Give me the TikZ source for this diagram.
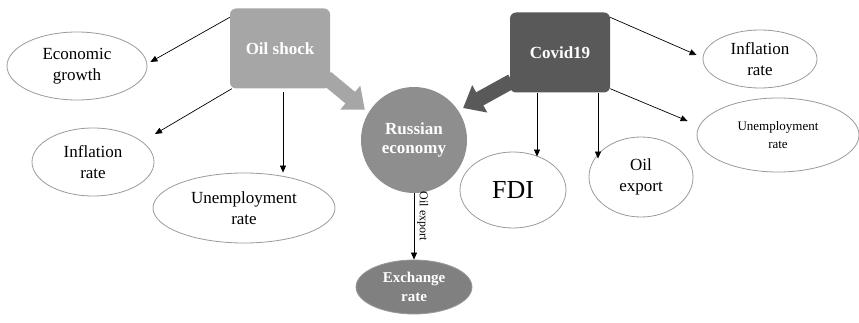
\documentclass[tikz,border=0pt]{standalone}
\usepackage{fontspec}
\setmainfont{Liberation Serif}
\usetikzlibrary{shapes.geometric,arrows.meta,backgrounds}
\definecolor{oilgray}{HTML}{A6A6A6}
\definecolor{rusgray}{HTML}{8E8E8E}
\definecolor{covgray}{HTML}{595959}
\definecolor{exgray}{HTML}{808080}
\definecolor{rimgray}{HTML}{9A9A9A}
\tikzset{
  oval/.style={draw=rimgray, line width=0.8pt, ellipse, inner sep=0pt, align=center, font=\fontsize{17}{20.5}\selectfont},
  shockbox/.style={rounded corners=6pt, minimum width=100pt, minimum height=80pt, text=white, font=\fontsize{17}{20}\selectfont\bfseries},
  arr/.style={-{Triangle[length=7pt,width=6pt]}, line width=0.7pt},
  bigarr/.style={line width=15pt, -{Triangle[length=19pt,width=30pt]}}
}
\begin{document}
\begin{tikzpicture}[x=1pt,y=-1pt]
\useasboundingbox (0,0) rectangle (859,323);
\node[shockbox, fill=oilgray] (oil) at (280,48.5) {Oil shock};
\node[shockbox, fill=covgray] (cov) at (560,52.5) {Covid19};
\node[circle, fill=rusgray, minimum size=106pt, inner sep=0pt, align=center, text=white, font=\fontsize{17}{19.5}\selectfont\bfseries] (rus) at (414,140) {Russian\\economy};
\node[oval, fill=exgray, minimum width=116pt, minimum height=54pt, text=white, font=\fontsize{15}{19}\selectfont\bfseries] (exr) at (414,287) {Exchange\\rate};
\node[oval, minimum width=140pt, minimum height=68pt] (eco) at (77,66) {Economic\\growth};
\node[oval, minimum width=122pt, minimum height=68pt] (infl) at (93,162) {Inflation\\rate};
\node[oval, minimum width=182pt, minimum height=70pt] (unl) at (244,208) {Unemployment\\rate};
\node[oval, minimum width=114pt, minimum height=58pt] (infr) at (760,59) {Inflation\\rate};
\node[oval, minimum width=162pt, minimum height=74pt, font=\fontsize{13}{18}\selectfont] (unr) at (778,135) {Unemployment\\rate};
\node[oval, minimum width=106pt, minimum height=76pt, font=\fontsize{26}{30}\selectfont] (fdi) at (513,190) {FDI};
\node[oval, minimum width=104pt, minimum height=80pt] (oex) at (641,177) {Oil\\export};
\begin{scope}[on background layer]
\draw[bigarr, oilgray] ([shift={(-4pt,11pt)}]oil.south east) -- ([shift={(-4pt,2pt)}]rus.148);
\draw[bigarr, covgray] ([shift={(2pt,11.5pt)}]cov.south west) -- ([shift={(4.5pt,3pt)}]rus.33);
\end{scope}
\draw[arr] ([yshift=-9pt]oil.north west) -- ([shift={(3pt,4pt)}]eco.east);
\draw[arr] ([xshift=2pt]oil.south west) -- ([shift={(62pt,28pt)}]infl.center);
\draw[arr] ([xshift=3pt,yshift=-3pt]oil.south) -- ([xshift=3pt]oil.south |- unl.north);
\draw[arr] ([yshift=-5pt]cov.north east) -- ([shift={(-6pt,4pt)}]infr.west);
\draw[arr] ([yshift=4pt]cov.south east) -- ([shift={(-9pt,14pt)}]unr.west);
\draw[arr] ([xshift=-23pt]cov.south) -- ([xshift=-23pt,yshift=-5pt]cov.south |- fdi.north);
\draw[arr] ([xshift=38pt]cov.south) -- ([xshift=38pt,yshift=-22pt]cov.south |- oex.north);
\draw[arr] (rus.south) -- (rus.south |- exr.north) node[pos=0.35, anchor=south, rotate=-90, inner sep=3pt, font=\fontsize{12}{14}\selectfont]{Oil export};
\end{tikzpicture}
\end{document}
